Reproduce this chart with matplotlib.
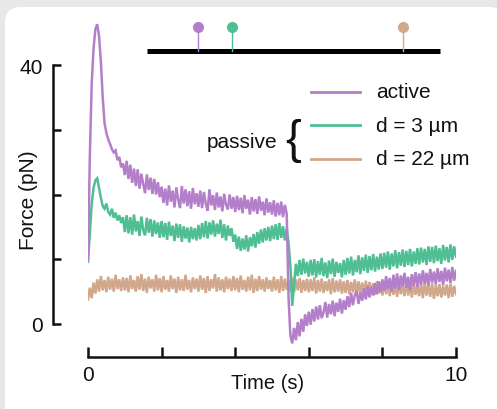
import matplotlib
matplotlib.use("Agg")
import matplotlib.pyplot as plt
import numpy as np
from matplotlib.patches import FancyBboxPatch
from matplotlib.transforms import IdentityTransform

# ---------------------------------------------------------------------------
# Data (force in pN, sampled every 0.05 s from 0 to 10 s)
# ---------------------------------------------------------------------------
dt = 0.05

active = [
    10, 26, 37, 42.5, 45.5, 46.3, 44.5, 40.5, 35, 31, 29.5, 28.5, 27.8, 27, 26.5, 26.8, 25.3, 25.8, 24.2, 24.8,
    23.0, 25.2, 22.4, 24.6, 21.8, 24.0, 21.3, 23.9, 20.9, 23.2, 21.6, 20.2, 23.1, 20.7, 22.6, 20.1, 22.4, 20.0, 21.9, 19.6,
    21.2, 18.7, 20.9, 18.3, 21.4, 18.9, 20.6, 18.0, 21.1, 19.2, 17.9, 21.3, 18.6, 20.8, 18.2, 20.5, 17.8, 21.0, 18.5, 20.2,
    18.1, 20.6, 17.9, 20.4, 18.6, 17.5, 20.8, 18.3, 19.9, 17.6, 20.3, 18.0, 19.7, 17.4, 20.1, 18.4, 17.7, 20.0, 17.8, 19.6,
    17.3, 19.8, 17.6, 19.5, 17.1, 19.9, 17.8, 19.2, 16.9, 19.6, 17.4, 19.3, 17.0, 19.7, 17.5, 18.9, 16.8, 19.4, 17.2, 18.8,
    16.9, 19.1, 16.6, 18.7, 16.8, 18.9, 16.5, 18.4, 17.0, 4.0, -1.8, -3.0, -0.6, -2.5, 0.3, -1.9, 0.8, -1.2, 1.5, -0.3,
    1.9, -0.1, 2.3, 0.4, 2.7, 0.7, 2.9, 0.9, 1.8, 3.4, 1.0, 3.1, 1.5, 3.6, 1.2, 3.3, 1.9, 3.9, 1.6, 3.7,
    2.2, 4.3, 2.6, 4.8, 2.9, 4.5, 5.1, 3.1, 4.9, 3.6, 5.5, 3.8, 5.9, 4.1, 5.7, 4.4, 6.3, 4.6, 6.6, 4.9,
    6.9, 5.1, 7.4, 5.4, 7.1, 5.0, 7.6, 5.5, 7.8, 5.3, 7.5, 5.8, 7.9, 5.6, 7.3, 5.2, 7.7, 5.9, 8.0, 5.7,
    7.8, 6.0, 8.3, 6.2, 7.9, 5.9, 8.5, 6.4, 8.1, 6.1, 8.6, 6.5, 8.2, 6.0, 8.7, 6.6, 8.4, 6.3, 8.8, 6.7, 8.2,
]

passive_3um = [
    9.6, 14, 18.5, 21.0, 22.2, 22.5, 21.0, 19.5, 18.2, 17.8, 18.6, 17.3, 16.9, 17.8, 16.4, 17.2, 16.0, 16.8, 15.6, 16.5,
    14.2, 16.8, 14.0, 16.5, 13.8, 16.9, 14.3, 15.9, 13.6, 16.6, 14.5, 13.7, 16.4, 14.1, 16.2, 13.5, 16.0, 13.9, 15.7, 13.3,
    15.9, 13.4, 15.6, 13.0, 15.8, 13.6, 15.2, 12.8, 15.5, 13.3, 15.4, 12.7, 15.1, 13.2, 14.9, 12.6, 15.0, 13.1, 14.8, 12.9,
    15.3, 13.1, 15.6, 13.4, 15.9, 13.2, 15.7, 13.8, 16.0, 13.5, 15.5, 13.9, 16.1, 13.3, 15.4, 12.9, 15.2, 13.6, 14.8, 12.7,
    13.8, 11.6, 13.5, 11.3, 13.2, 11.5, 13.7, 11.2, 13.4, 12.0, 13.9, 11.8, 14.2, 12.4, 14.6, 12.6, 14.8, 12.9, 15.0, 12.8,
    15.2, 13.1, 15.4, 13.0, 15.6, 13.3, 15.1, 12.9, 14.8, 12.5, 9.0, 2.8, 6.2, 9.3, 7.4, 9.9, 7.6, 10.1, 7.8, 9.6,
    7.3, 9.9, 7.5, 10.0, 7.2, 9.7, 7.6, 10.2, 7.4, 9.5, 7.1, 9.8, 7.7, 10.1, 7.3, 9.6, 7.9, 9.4, 7.2, 9.9,
    7.6, 10.2, 7.8, 10.4, 7.5, 9.9, 8.0, 10.6, 7.7, 10.3, 8.2, 10.7, 7.9, 10.5, 8.3, 10.8, 8.1, 10.4, 8.4, 10.9,
    8.5, 11.0, 8.7, 11.2, 8.4, 10.9, 8.9, 11.4, 8.6, 11.1, 9.0, 11.5, 8.8, 11.3, 9.1, 11.6, 8.9, 11.2, 9.3, 11.7,
    9.2, 11.8, 9.5, 11.6, 9.1, 12.0, 9.6, 11.9, 9.4, 12.1, 9.7, 11.7, 9.3, 12.2, 9.8, 11.9, 9.5, 12.3, 9.9, 12.0, 10.4,
]

passive_22um = [
    3.8, 5.6, 4.0, 6.4, 4.7, 6.9, 5.0, 7.4, 5.2, 6.8, 4.9, 7.3, 5.3, 7.0, 5.0, 7.6, 5.4, 6.9, 5.1, 7.2,
    5.2, 7.1, 4.9, 7.5, 5.4, 6.8, 5.0, 7.4, 5.3, 7.7, 5.1, 7.0, 4.8, 7.3, 5.5, 6.9, 5.0, 7.6, 5.2, 7.1,
    4.9, 7.4, 5.3, 6.8, 5.0, 7.5, 5.4, 7.0, 4.8, 7.3, 5.2, 6.9, 5.1, 7.6, 5.3, 6.8, 4.9, 7.2, 5.4, 7.0,
    5.0, 7.5, 5.3, 7.1, 4.8, 7.4, 5.1, 6.9, 5.5, 7.7, 5.0, 7.2, 5.2, 6.9, 4.9, 7.3, 5.4, 7.0, 5.1, 7.4,
    5.2, 7.1, 4.9, 7.5, 5.3, 6.8, 5.0, 7.3, 5.2, 7.6, 4.8, 7.0, 5.1, 7.4, 5.3, 6.9, 5.0, 7.2, 5.4, 6.8,
    5.0, 7.3, 5.2, 6.9, 4.8, 7.4, 5.1, 7.0, 5.3, 6.7, 5.0, 7.2, 4.9, 6.9, 5.2, 7.1, 4.8, 6.8, 5.1, 7.0,
    4.9, 6.9, 5.1, 7.2, 4.7, 6.8, 5.0, 7.0, 4.8, 6.6, 5.1, 6.9, 4.6, 7.1, 4.9, 6.7, 5.0, 6.9, 4.7, 6.6,
    4.8, 6.8, 4.6, 6.5, 4.9, 6.9, 4.5, 6.6, 4.8, 6.4, 4.6, 6.7, 4.4, 6.5, 4.8, 6.3, 4.5, 6.6, 4.7, 6.4,
    4.4, 6.5, 4.6, 6.2, 4.3, 6.6, 4.5, 6.3, 4.2, 6.4, 4.6, 6.1, 4.3, 6.5, 4.4, 6.2, 4.1, 6.3, 4.5, 6.0,
    4.3, 6.2, 4.0, 6.4, 4.4, 6.1, 4.2, 6.3, 3.9, 6.0, 4.3, 6.2, 4.1, 5.9, 4.4, 6.1, 4.0, 6.2, 4.2, 5.9, 4.6,
]

labels = ["active", "d = 3 µm", "d = 22 µm"]
colors = ["#b47fca", "#4fbf93", "#d2a88c"]

# timeline markers at the top (time in s)
bar_span = (1.6, 9.57)
marker_times = [2.99, 3.91, 8.56]

# ---------------------------------------------------------------------------
# Figure
# ---------------------------------------------------------------------------
plt.rcParams["font.family"] = ["Liberation Sans", "DejaVu Sans"]
W, H = 497, 410
fig = plt.figure(figsize=(W / 100, H / 100), dpi=100)
fig.patch.set_facecolor("#e7e8ea")

panel = FancyBboxPatch((5, -20), 500, 422, boxstyle="round,pad=0,rounding_size=16",
                       transform=IdentityTransform(), facecolor="white",
                       edgecolor="none", zorder=-10)
fig.patches.append(panel)

# axes: t=0 at x=88, t=10 at x=456; 0 pN at y=325, 40 pN at y=66
ppn = (325 - 66) / 40.0
ymin = -(358 - 325) / ppn
ymax = 48
top_px = 325 - ymax * ppn
ax = fig.add_axes([88 / W, 1 - 358 / H, (456 - 88) / W, (358 - top_px) / H])
ax.set_zorder(5)
ax.set_facecolor("none")
ax.set_xlim(0, 10)
ax.set_ylim(ymin, ymax)

t = np.arange(len(active)) * dt
for series, c in zip([passive_22um, passive_3um, active], colors[::-1]):
    ax.plot(t, series, color=c, lw=1.8, solid_joinstyle="miter")

# spines
for s in ("top", "right"):
    ax.spines[s].set_visible(False)
ax.spines["left"].set_position(("outward", 25.2))
ax.spines["left"].set_bounds(0, 40)
ax.spines["bottom"].set_bounds(0, 10)
for s in ("left", "bottom"):
    ax.spines[s].set_linewidth(1.8)
    ax.spines[s].set_color("#111111")

ax.set_xticks(np.arange(0, 11, 2))
ax.set_xticklabels(["0", "", "", "", "", "10"])
ax.set_yticks(np.arange(0, 41, 10))
ax.set_yticklabels(["0", "", "", "", "40"])
ax.tick_params(axis="both", direction="in", width=1.8, color="#111111",
               labelsize=15, labelcolor="#111111")
ax.tick_params(axis="x", length=7, pad=6)
ax.tick_params(axis="y", length=6, pad=7)

fig.text(29 / W, 1 - 200 / H, "Force (pN)", rotation=90, ha="center", va="center",
         fontsize=15, color="#111111")
fig.text(268 / W, 1 - 384 / H, "Time (s)", ha="center", va="center",
         fontsize=14.5, color="#111111")

# timeline bar with lollipops
bar_y = (325 - 52) / ppn
dot_y = (325 - 28) / ppn
ax.plot(bar_span, [bar_y, bar_y], color="black", lw=3.6, solid_capstyle="butt", clip_on=False)
for tm, c in zip(marker_times, colors):
    ax.plot([tm, tm], [bar_y, dot_y], color=c, lw=1.0, clip_on=False)
    ax.plot(tm, dot_y, "o", color=c, ms=8, mec="none", clip_on=False)

# legend drawn by hand
leg_y = [93, 126, 160]
for lab, c, py in zip(labels, colors, leg_y):
    fig.add_artist(plt.Line2D([311 / W, 360 / W], [1 - py / H, 1 - py / H],
                              color=c, lw=2.0, transform=fig.transFigure))
    fig.text(376 / W, 1 - py / H, lab, ha="left", va="center", fontsize=15, color="#111111")
fig.text(277 / W, 1 - 143 / H, "passive", ha="right", va="center", fontsize=15, color="#111111")
fig.text(293 / W, 1 - 141 / H, "{", ha="center", va="center", fontsize=34, color="#111111")

fig.savefig("out.png", dpi=100, facecolor=fig.get_facecolor())
